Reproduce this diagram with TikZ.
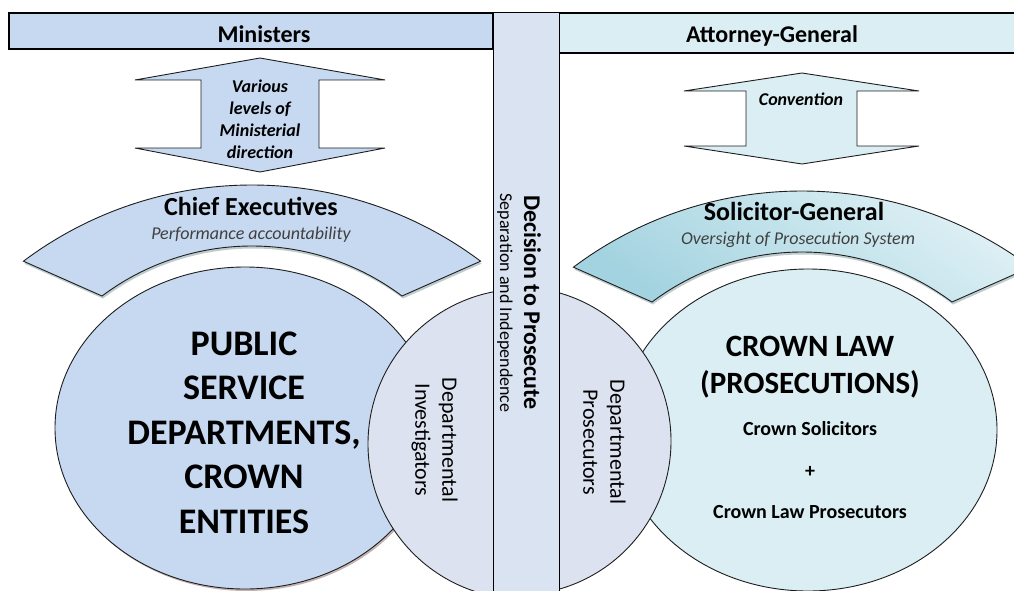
\documentclass[tikz,border=0pt]{standalone}
\usepackage{fontspec}
\setmainfont{Carlito}
\usetikzlibrary{shadows}
\definecolor{minblue}{HTML}{C6D9F1}
\definecolor{agcyan}{HTML}{DBEEF4}
\definecolor{bandcol}{HTML}{DAE3F1}
\definecolor{smallcol}{HTML}{DCE2EF}
\definecolor{crowncol}{HTML}{DAEEF3}
\definecolor{sgdark}{HTML}{A3D3E0}
\definecolor{sglight}{HTML}{E4F3F7}
\definecolor{linecol}{HTML}{1E1E1E}
\definecolor{subtext}{HTML}{404040}
\definecolor{shadowgray}{HTML}{7F9A9E}
\definecolor{shadowbrown}{HTML}{9E7F80}
\newcommand\fsz[2]{\fontsize{#1}{#2}\selectfont}
\begin{document}
\begin{tikzpicture}[x=1pt,y=1pt,
  outl/.style={draw=linecol, line width=0.9pt},
  barbox/.style={draw=black, line width=1.2pt},
  arcshadow/.style={drop shadow={shadow xshift=1pt, shadow yshift=-2.5pt, opacity=0.5, fill=shadowgray}},
  ellshadow/.style={drop shadow={shadow xshift=1.5pt, shadow yshift=-2pt, opacity=0.6, fill=shadowbrown}},
  hdr/.style={font=\bfseries\fsz{24}{28}, inner sep=0pt},
  arrowtxt/.style={font=\bfseries\itshape\fsz{18}{22}, align=center, inner sep=0pt},
  sub/.style={font=\itshape\fsz{18}{22}, text=subtext, inner sep=0pt},
  bigtxt/.style={font=\bfseries\fsz{36}{44.5}, align=center, inner sep=0pt},
  sidetxt/.style={font=\fsz{22}{27}, align=center, inner sep=0pt, rotate=-90}
]
\useasboundingbox (0,0) rectangle (1014,-591);
\clip (0,0) rectangle (1014,-591);

% top bars
\draw[barbox, fill=minblue] (9,-13) rectangle (493,-49);
\draw[barbox, fill=agcyan] (559,-13) rectangle (1020,-53);

% double arrows
\draw[outl, fill=minblue] (260,-58) -- (385,-80) -- (319,-80) -- (319,-148) -- (385,-148)
  -- (260,-172) -- (135,-148) -- (201,-148) -- (201,-80) -- (135,-80) -- cycle;
\draw[outl, fill=crowncol] (802,-73) -- (919,-91) -- (857,-91) -- (857,-146) -- (919,-146)
  -- (802,-164) -- (684,-146) -- (746,-146) -- (746,-91) -- (684,-91) -- cycle;

% block arcs
\draw[outl, fill=minblue, arcshadow] (480.6,-261.2) arc[start angle=53.13, end angle=126.87, radius=381]
  -- (102,-296) arc[start angle=126.87, end angle=53.13, radius=250] -- cycle;
\draw[outl, top color=sglight, bottom color=sgdark, shading angle=-35, arcshadow]
  (1030.6,-267.2) arc[start angle=53.13, end angle=126.87, radius=381]
  -- (652,-302) arc[start angle=126.87, end angle=53.13, radius=250] -- cycle;

% large ellipses
\draw[outl, fill=minblue, ellshadow] (245,-428) ellipse[x radius=190, y radius=161];
\draw[outl, fill=crowncol] (808,-430) ellipse[x radius=189, y radius=161];

% small circles, each visible only on its own side of the band
\begin{scope}
  \clip (0,0) rectangle (526,-591);
  \draw[outl, fill=smallcol] (523,-444) circle[radius=155];
\end{scope}
\begin{scope}
  \clip (526,0) rectangle (1014,-591);
  \draw[outl, fill=smallcol] (517,-441) circle[radius=154];
\end{scope}

% central band
\draw[barbox, line width=1pt, fill=bandcol] (493,-13) rectangle (559,-600);

% texts
\node[hdr, anchor=base] (ministers) at (264,-43) {Ministers};
\node[hdr, anchor=base] (attgen) at (772,-43) {Attorney-General};

\node[arrowtxt] (direction) at (260,-119) {Various\\levels of\\Ministerial\\direction};
\node[arrowtxt, anchor=base] (convention) at (801,-106) {Convention};

\node[font=\bfseries\fsz{26}{30}, inner sep=0pt, anchor=base] (chief) at (251,-215) {Chief Executives};
\node[sub, anchor=base] (perf) at (251,-239) {Performance accountability};
\node[font=\bfseries\fsz{26}{30}, inner sep=0pt, anchor=base] (solgen) at (794,-220) {Solicitor-General};
\node[sub, anchor=base] (oversight) at (798,-244) {Oversight of Prosecution System};

\node[bigtxt] (psd) at (244,-432.4) {PUBLIC\\SERVICE\\DEPARTMENTS,\\CROWN\\ENTITIES};
\node[font=\bfseries\fsz{31}{37}, align=center, inner sep=0pt] (crownlaw) at (810,-367.4) {CROWN LAW\\(PROSECUTIONS)};
\node[font=\bfseries\fsz{20}{41.5}, align=center, inner sep=0pt] (crownsol) at (810,-470.5) {Crown Solicitors\\+\\Crown Law Prosecutors};

\node[sidetxt] (invest) at (434.5,-440) {Departmental\\Investigators};
\node[sidetxt] (prosec) at (604.5,-442) {Departmental\\Prosecutors};

\node[font=\bfseries\fsz{24}{28}, inner sep=0pt, rotate=-90, anchor=base] (decision) at (524,-302.5) {Decision to Prosecute};
\node[font=\fsz{18}{22}, inner sep=0pt, rotate=-90, anchor=base] (separation) at (500,-303) {Separation and Independence};
\end{tikzpicture}
\end{document}
